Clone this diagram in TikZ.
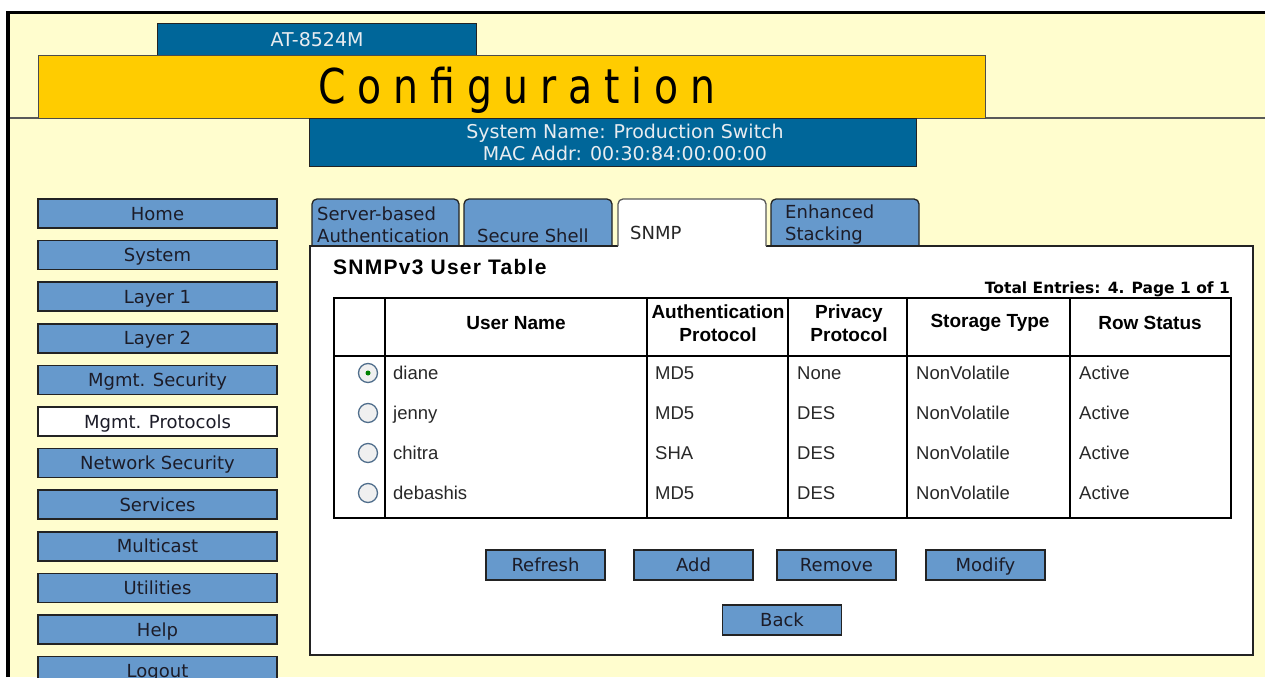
\documentclass[tikz,border=0pt]{standalone}
\usepackage{fontspec}
\usepackage{graphicx}
\setmainfont{DejaVu Sans}
\newfontfamily\arialf{Liberation Sans}
\newfontfamily\conff[LetterSpace=30]{DejaVu Sans}
\newfontfamily\titlef[LetterSpace=6]{Liberation Sans}
\definecolor{cream}{RGB}{255,253,206}
\definecolor{navy}{RGB}{0,102,153}
\definecolor{gold}{RGB}{255,204,0}
\definecolor{btn}{RGB}{102,153,204}
\definecolor{txt}{RGB}{28,28,40}
\definecolor{edge}{RGB}{35,35,35}
\definecolor{light}{RGB}{232,236,240}
\definecolor{radioedge}{RGB}{80,110,140}
\definecolor{celltxt}{RGB}{40,40,40}
\tikzset{
  menubtn/.style={draw=edge, line width=1.5pt, fill=btn, minimum width=239pt, minimum height=29pt,
    inner sep=0pt, font=\fontsize{18}{20}\selectfont, text=txt, text height=13pt, text depth=0pt},
  actbtn/.style={menubtn, fill=white},
  pushbtn/.style={draw=edge, line width=1.5pt, fill=btn, minimum width=119pt, minimum height=30pt,
    inner sep=0pt, font=\fontsize{18}{20}\selectfont, text=txt, text height=13pt, text depth=0pt},
  tabshape/.style={draw=edge, line width=1.3pt, fill=btn, rounded corners=5pt},
  tabtext/.style={anchor=west, inner sep=0pt, align=left, font=\fontsize{18}{22}\selectfont, text=txt},
  hdr/.style={inner sep=0pt, align=center, font=\arialf\bfseries\fontsize{19}{23}\selectfont, text=black},
  cell/.style={anchor=west, inner sep=0pt, font=\arialf\fontsize{18.5}{20}\selectfont, text=celltxt,
    text height=13pt, text depth=0pt},
  radio/.style={circle, draw=radioedge, line width=1.3pt, fill=gray!12, minimum size=19pt, inner sep=0pt},
  hdrtxt/.style={inner sep=0pt, font=\fontsize{19}{21}\selectfont, text=light, anchor=base},
  tline/.style={black, line width=1.5pt}
}
\begin{document}
\begin{tikzpicture}[x=1pt,y=-1pt]
\useasboundingbox (0,0) rectangle (1265,677);
\clip (0,0) rectangle (1265,677);
% background
\fill[white] (0,0) rectangle (1265,677);
\fill[cream] (8,12) rectangle (1265,677);
\draw[black, line width=3.5pt] (8,677) -- (8,12.5) -- (1265,12.5);
% header
\draw[gray!70!black, line width=2pt] (10,118) -- (1265,118);
\draw[fill=navy, draw=edge, line width=1pt] (157,24) rectangle (476,56);
\node[hdrtxt] (model) at (317,47) {AT-8524M};
\draw[fill=gold, draw=gray!60!black, line width=1pt] (38,56) rectangle (985,118);
\node[inner sep=0pt, anchor=base, text=black] (conf) at (517,103)
  {\scalebox{0.82}[1]{\conff\fontsize{48}{50}\selectfont Configuration}};
\draw[fill=navy, draw=edge, line width=1pt] (309,118) rectangle (916,166);
\node[hdrtxt] (sysname) at (625,138) {System Name: Production Switch};
\node[hdrtxt] (mac) at (625,160) {MAC Addr: 00:30:84:00:00:00};
% left menu
\node[menubtn] (home) at (157.5,213.5) {Home};
\node[menubtn] (system) at (157.5,255.1) {System};
\node[menubtn] (layer1) at (157.5,296.7) {Layer 1};
\node[menubtn] (layer2) at (157.5,338.3) {Layer 2};
\node[menubtn] (mgmtsec) at (157.5,379.9) {Mgmt. Security};
\node[actbtn] (mgmtprot) at (157.5,421.5) {Mgmt. Protocols};
\node[menubtn] (netsec) at (157.5,463.1) {Network Security};
\node[menubtn] (services) at (157.5,504.7) {Services};
\node[menubtn] (multicast) at (157.5,546.3) {Multicast};
\node[menubtn] (utilities) at (157.5,587.9) {Utilities};
\node[menubtn] (help) at (157.5,629.5) {Help};
\node[menubtn] (logout) at (157.5,671.1) {Logout};
% tabs
\draw[tabshape] (312,247) -- (312,199) -- (459,199) -- (459,247);
\draw[tabshape] (464,247) -- (464,199) -- (612,199) -- (612,247);
\draw[tabshape] (771,247) -- (771,199) -- (919,199) -- (919,247);
% panel
\fill[white] (310,246) rectangle (1253,655);
\draw[edge, line width=1.5pt] (618,246) -- (310,246) -- (310,655) -- (1253,655) -- (1253,246) -- (766,246);
\draw[tabshape, draw=gray!70!black, fill=white] (618,246) -- (618,199) -- (766,199) -- (766,246);
\node[tabtext] (tabauth) at (317,225) {Server-based\\Authentication};
\node[tabtext, anchor=base west] (tabssh) at (477,242) {Secure Shell};
\node[tabtext, anchor=base west, text=gray!30!black] (tabsnmp) at (630,239) {SNMP};
\node[tabtext] (tabstack) at (785,225) {Enhanced\\Stacking};
% titles
\node[anchor=west, inner sep=0pt, font=\titlef\bfseries\fontsize{21}{23}\selectfont] (title) at (333,267) {SNMPv3 User Table};
\node[anchor=east, inner sep=0pt, font=\bfseries\fontsize{15.5}{17}\selectfont] (total) at (1230,289) {Total Entries: 4. Page 1 of 1};
% table
\draw[tline] (334,298) rectangle (1231,518);
\draw[tline] (334,356) -- (1231,356);
\foreach \cx in {385,647,788,907,1070} \draw[tline] (\cx,298) -- (\cx,518);
\node[hdr] (hname) at (516,323) {User Name};
\node[hdr] (hauth) at (718,323) {Authentication\\Protocol};
\node[hdr] (hpriv) at (849,323) {Privacy\\Protocol};
\node[hdr] (hstor) at (990,323) {Storage Type};
\node[hdr] (hrow) at (1150,323) {Row Status};
% rows
\node[radio] (r1) at (368,373) {};
\node[circle, fill=green!50!black, minimum size=5pt, inner sep=0pt] (r1dot) at (r1.center) {};
\node[radio] (r2) at (368,413) {};
\node[radio] (r3) at (368,453) {};
\node[radio] (r4) at (368,493) {};
\node[cell] (n1) at (393,373) {diane};
\node[cell] (n2) at (393,413) {jenny};
\node[cell] (n3) at (393,453) {chitra};
\node[cell] (n4) at (393,493) {debashis};
\node[cell] (a1) at (655,373) {MD5};
\node[cell] (a2) at (655,413) {MD5};
\node[cell] (a3) at (655,453) {SHA};
\node[cell] (a4) at (655,493) {MD5};
\node[cell] (p1) at (797,373) {None};
\node[cell] (p2) at (797,413) {DES};
\node[cell] (p3) at (797,453) {DES};
\node[cell] (p4) at (797,493) {DES};
\node[cell] (s1) at (916,373) {NonVolatile};
\node[cell] (s2) at (916,413) {NonVolatile};
\node[cell] (s3) at (916,453) {NonVolatile};
\node[cell] (s4) at (916,493) {NonVolatile};
\node[cell] (st1) at (1079,373) {Active};
\node[cell] (st2) at (1079,413) {Active};
\node[cell] (st3) at (1079,453) {Active};
\node[cell] (st4) at (1079,493) {Active};
% buttons
\node[pushbtn] (refresh) at (545.5,565) {Refresh};
\node[pushbtn] (add) at (693.5,565) {Add};
\node[pushbtn] (remove) at (836.5,565) {Remove};
\node[pushbtn] (modify) at (985.5,565) {Modify};
\node[pushbtn] (back) at (782,620) {Back};
\end{tikzpicture}
\end{document}
